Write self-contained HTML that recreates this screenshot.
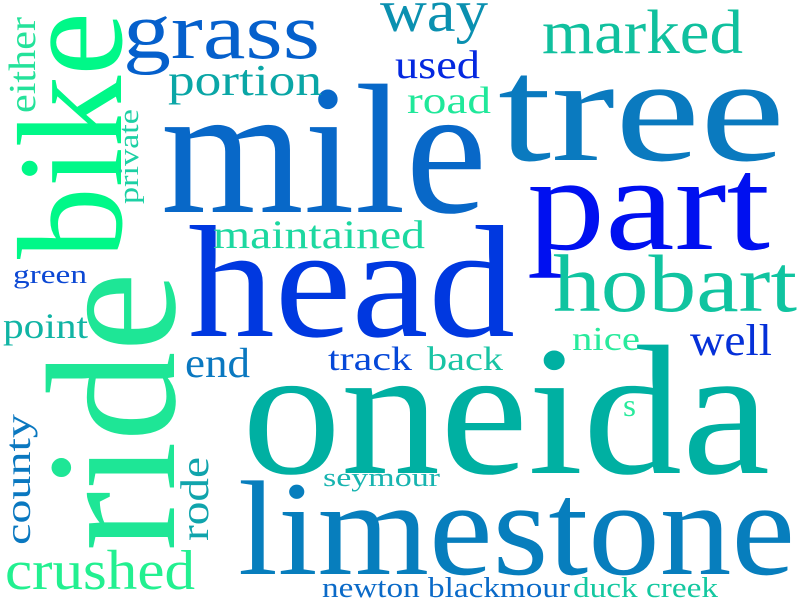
<!DOCTYPE html>
<html><head><meta charset="utf-8"><style>
html,body{margin:0;padding:0;background:#fff;width:800px;height:600px;overflow:hidden}
svg text{font-family:"Liberation Serif",serif}
</style></head><body>
<svg width="800" height="600" viewBox="0 0 800 600">
<rect width="800" height="600" fill="#fff"/>
<g lengthAdjust="spacingAndGlyphs">
<text x="161" y="212" font-size="185" textLength="326" lengthAdjust="spacingAndGlyphs" fill="#0868c8">mile</text>
<text x="498" y="160" font-size="150" textLength="287" lengthAdjust="spacingAndGlyphs" fill="#0a7abf">tree</text>
<text x="527" y="249" font-size="135" textLength="243" lengthAdjust="spacingAndGlyphs" fill="#0010f0">part</text>
<text x="188" y="336" font-size="160" textLength="327" lengthAdjust="spacingAndGlyphs" fill="#0038e0">head</text>
<text x="242" y="473" font-size="185" textLength="528" lengthAdjust="spacingAndGlyphs" fill="#00b0a2">oneida</text>
<text x="238" y="574" font-size="135" textLength="557" lengthAdjust="spacingAndGlyphs" fill="#077ebd">limestone</text>
<text x="123" y="58" font-size="80" textLength="197" lengthAdjust="spacingAndGlyphs" fill="#0560cc">grass</text>
<text x="380" y="31" font-size="60" textLength="108" lengthAdjust="spacingAndGlyphs" fill="#0a90b0">way</text>
<text x="542" y="53" font-size="62" textLength="201" lengthAdjust="spacingAndGlyphs" fill="#10c09e">marked</text>
<text x="168" y="95" font-size="44" textLength="154" lengthAdjust="spacingAndGlyphs" fill="#0aa6a6">portion</text>
<text x="395" y="78" font-size="40" textLength="85" lengthAdjust="spacingAndGlyphs" fill="#0428e0">used</text>
<text x="407" y="113" font-size="38" textLength="84" lengthAdjust="spacingAndGlyphs" fill="#20e89a">road</text>
<text x="213" y="248" font-size="40" textLength="212" lengthAdjust="spacingAndGlyphs" fill="#1cd8a0">maintained</text>
<text x="553" y="311" font-size="82" textLength="244" lengthAdjust="spacingAndGlyphs" fill="#10c4a0">hobart</text>
<text x="13" y="283" font-size="26" textLength="74" lengthAdjust="spacingAndGlyphs" fill="#0c48d4">green</text>
<text x="3" y="338" font-size="36" textLength="85" lengthAdjust="spacingAndGlyphs" fill="#10b4a4">point</text>
<text x="185" y="377" font-size="42" textLength="65" lengthAdjust="spacingAndGlyphs" fill="#0a78c0">end</text>
<text x="328" y="370" font-size="34" textLength="84" lengthAdjust="spacingAndGlyphs" fill="#0548d8">track</text>
<text x="427" y="370" font-size="34" textLength="76" lengthAdjust="spacingAndGlyphs" fill="#18c4a4">back</text>
<text x="572" y="350" font-size="34" textLength="68" lengthAdjust="spacingAndGlyphs" fill="#28ea9c">nice</text>
<text x="690" y="355" font-size="44" textLength="82" lengthAdjust="spacingAndGlyphs" fill="#0530d8">well</text>
<text x="623" y="416" font-size="32" textLength="13" lengthAdjust="spacingAndGlyphs" fill="#28ea9c">s</text>
<text x="323" y="486" font-size="26" textLength="117" lengthAdjust="spacingAndGlyphs" fill="#18b4b0">seymour</text>
<text x="5" y="589" font-size="56" textLength="190" lengthAdjust="spacingAndGlyphs" fill="#22f090">crushed</text>
<text x="322" y="597" font-size="28" textLength="248" lengthAdjust="spacingAndGlyphs" fill="#0a6ac8">newton blackmour</text>
<text x="573" y="597" font-size="28" textLength="145" lengthAdjust="spacingAndGlyphs" fill="#14c8a0">duck creek</text>
<text transform="translate(121,259) rotate(-90)" font-size="150" textLength="247" lengthAdjust="spacingAndGlyphs" fill="#00f888">bike</text>
<text transform="translate(174,551) rotate(-90)" font-size="185" textLength="279" lengthAdjust="spacingAndGlyphs" fill="#1ee696">ride</text>
<text transform="translate(35,113) rotate(-90)" font-size="38" textLength="96" lengthAdjust="spacingAndGlyphs" fill="#24e29a">either</text>
<text transform="translate(138,204) rotate(-90)" font-size="28" textLength="95" lengthAdjust="spacingAndGlyphs" fill="#1cd0a4">private</text>
<text transform="translate(30,545) rotate(-90)" font-size="36" textLength="131" lengthAdjust="spacingAndGlyphs" fill="#0a78c0">county</text>
<text transform="translate(208,541) rotate(-90)" font-size="40" textLength="84" lengthAdjust="spacingAndGlyphs" fill="#10a4ac">rode</text>
</g>
</svg>
</body></html>
